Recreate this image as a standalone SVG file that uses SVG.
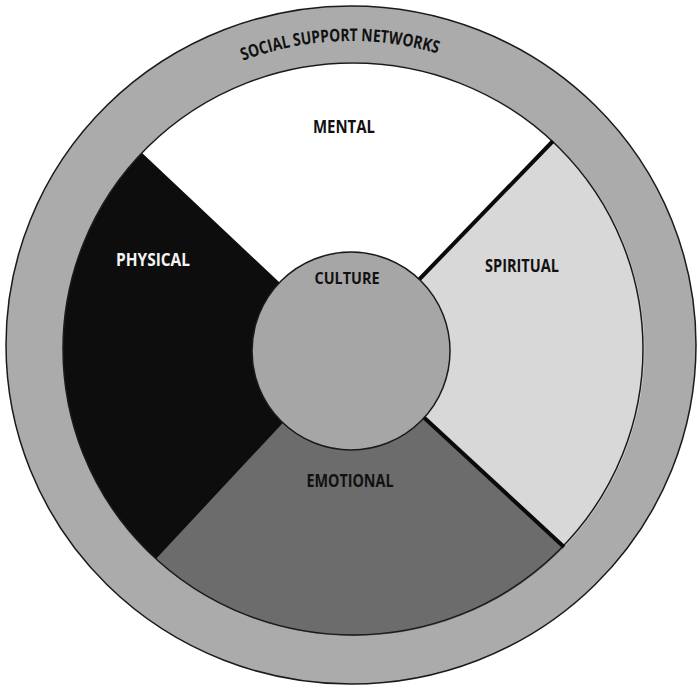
<svg xmlns="http://www.w3.org/2000/svg" width="697" height="687" viewBox="0 0 697 687">
  <style>
    .lbl { font-family: "Open Sans", "Liberation Sans", sans-serif; font-weight: 700; text-anchor: middle; }
    .edge { stroke: #1a1a1a; stroke-width: 1.5; }
    .divider { stroke: #0a0a0a; stroke-width: 4; stroke-linecap: butt; }
  </style>
  <defs>
    <path id="ringPath" d="M 47 345 A 304 304 0 0 1 655 345"/>
  </defs>
  <rect width="697" height="687" fill="#ffffff"/>

  <g id="social-support-networks">
    <ellipse cx="351" cy="345" rx="345" ry="339" fill="#ababab" class="edge"/>
    <text class="lbl" font-size="17.5" fill="#111"><textPath href="#ringPath" startOffset="466" textLength="198" lengthAdjust="spacingAndGlyphs">SOCIAL SUPPORT NETWORKS</textPath></text>
  </g>

  <g id="mental">
    <path d="M 351 350 L 142 153 A 290 286 0 0 1 553 141 Z" fill="#ffffff"/>
    <text class="lbl" x="344" y="133" font-size="18" fill="#111" textLength="62" lengthAdjust="spacingAndGlyphs">MENTAL</text>
  </g>
  <g id="spiritual">
    <path d="M 351 350 L 553 141 A 290 286 0 0 1 564 547 Z" fill="#d8d8d8"/>
    <text class="lbl" x="522" y="272" font-size="18" fill="#111" textLength="74" lengthAdjust="spacingAndGlyphs">SPIRITUAL</text>
  </g>
  <g id="emotional">
    <path d="M 351 350 L 564 547 A 290 286 0 0 1 156 559 Z" fill="#6c6c6c"/>
    <text class="lbl" x="350" y="487" font-size="18" fill="#111" textLength="87" lengthAdjust="spacingAndGlyphs">EMOTIONAL</text>
  </g>
  <g id="physical">
    <path d="M 351 350 L 156 559 A 290 286 0 0 1 142 153 Z" fill="#0d0d0d"/>
    <text class="lbl" x="153" y="266" font-size="18" fill="#f4f4f4" textLength="74" lengthAdjust="spacingAndGlyphs">PHYSICAL</text>
  </g>

  <ellipse cx="353" cy="349" rx="290" ry="286" fill="none" class="edge"/>

  <g id="connectors">
    <line class="divider" x1="351" y1="350" x2="553" y2="141"/>
    <line class="divider" x1="351" y1="350" x2="564" y2="547"/>
  </g>

  <g id="culture">
    <circle cx="351" cy="351" r="99" fill="#a6a6a6" class="edge"/>
    <text class="lbl" x="347" y="284" font-size="16.5" fill="#111" textLength="65" lengthAdjust="spacingAndGlyphs">CULTURE</text>
  </g>
</svg>
